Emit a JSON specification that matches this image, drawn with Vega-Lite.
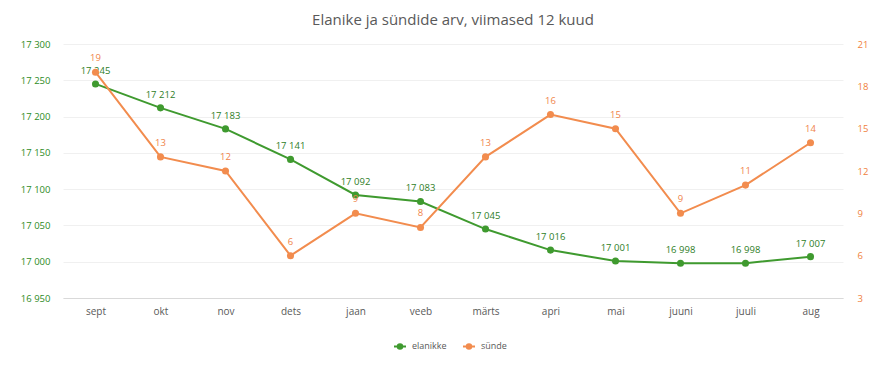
{
  "$schema": "https://vega.github.io/schema/vega-lite/v6.json",
  "width": 780,
  "height": 254,
  "autosize": "none",
  "padding": {"left": 63, "top": 44, "right": 44, "bottom": 74},
  "background": "white",
  "title": {"text": "Elanike ja sündide arv, viimased 12 kuud", "fontSize": 15, "font": "Open Sans", "fontWeight": "normal", "color": "#595959", "offset": 11, "anchor": "middle"},
  "config": {
    "locale": {"number": {"decimal": ",", "thousands": " ", "grouping": [3], "currency": ["", ""]}},
    "view": {"stroke": null},
    "font": "Open Sans"
  },
  "data": {"values": [
    {"kuu": "sept", "elanikke": 17245, "synde": 19},
    {"kuu": "okt", "elanikke": 17212, "synde": 13},
    {"kuu": "nov", "elanikke": 17183, "synde": 12},
    {"kuu": "dets", "elanikke": 17141, "synde": 6},
    {"kuu": "jaan", "elanikke": 17092, "synde": 9},
    {"kuu": "veeb", "elanikke": 17083, "synde": 8},
    {"kuu": "märts", "elanikke": 17045, "synde": 13},
    {"kuu": "apri", "elanikke": 17016, "synde": 16},
    {"kuu": "mai", "elanikke": 17001, "synde": 15},
    {"kuu": "juuni", "elanikke": 16998, "synde": 9},
    {"kuu": "juuli", "elanikke": 16998, "synde": 11},
    {"kuu": "aug", "elanikke": 17007, "synde": 14}
  ]},
  "encoding": {
    "x": {"field": "kuu", "type": "ordinal", "sort": null, "scale": {"type": "point", "padding": 0.5},
      "axis": {"title": null, "labelAngle": 0, "ticks": false, "domainColor": "#d9d9d9", "labelColor": "#595959", "labelFontSize": 10, "labelPadding": 8, "grid": false}}
  },
  "layer": [
    {
      "encoding": {"y": {"field": "elanikke", "type": "quantitative", "scale": {"domain": [16950, 17300], "nice": false, "zero": false},
            "axis": {"title": null, "values": [16950, 17000, 17050, 17100, 17150, 17200, 17250, 17300], "format": ",d", "labelOverlap": false, "labelColor": "#2e8b1e", "labelFontSize": 9.5, "labelPadding": 13, "ticks": false, "domain": false, "gridColor": "#f0f0f0"}}},
      "layer": [
        {"mark": {"type": "line", "strokeWidth": 2, "point": {"filled": true, "size": 50}},
         "encoding": {
           "color": {"datum": "elanikke", "type": "nominal", "scale": {"domain": ["elanikke", "sünde"], "range": ["#3f9a2f", "#f28c4e"]},
             "legend": {"title": null, "orient": "none", "direction": "horizontal", "legendX": 331, "legendY": 296, "labelColor": "#595959", "labelFontSize": 9, "labelOffset": 6, "symbolType": "M-1.2,0H1.2M-0.45,0a0.45,0.45 0 1,0 0.9,0a0.45,0.45 0 1,0 -0.9,0", "symbolSize": 100, "symbolStrokeWidth": 2, "columnPadding": 12}}}},
        {"mark": {"type": "text", "dy": -13, "fontSize": 9.5, "color": "#2e7d1f"},
         "encoding": {"text": {"field": "elanikke", "type": "quantitative", "format": ",d"}}}
      ]
    },
    {
      "encoding": {"y": {"field": "synde", "type": "quantitative", "scale": {"domain": [3, 21], "nice": false, "zero": false},
            "axis": {"title": null, "orient": "right", "values": [3, 6, 9, 12, 15, 18, 21], "labelOverlap": false, "labelColor": "#f07f3c", "labelFontSize": 9.5, "labelPadding": 14, "ticks": false, "domain": false, "grid": false}}},
      "layer": [
        {"mark": {"type": "line", "strokeWidth": 2, "point": {"filled": true, "size": 50}},
         "encoding": {"color": {"datum": "sünde", "type": "nominal"}}},
        {"mark": {"type": "text", "dy": -14, "fontSize": 9.5, "color": "#f0844a"},
         "encoding": {"text": {"field": "synde", "type": "quantitative"}}}
      ]
    }
  ],
  "resolve": {"scale": {"y": "independent"}}
}
